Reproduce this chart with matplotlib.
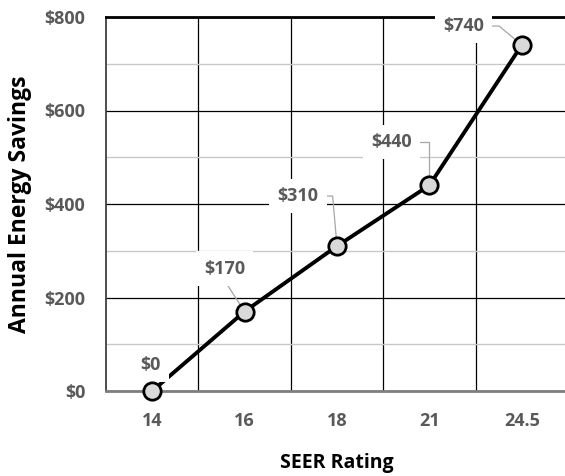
import matplotlib.pyplot as plt
from matplotlib.ticker import FixedLocator, FuncFormatter

plt.rcParams["font.family"] = ["Open Sans", "DejaVu Sans"]

seer = ["14", "16", "18", "21", "24.5"]
savings = [0, 170, 310, 440, 740]

# label placement (pixels from the point) and leader-line angle at the point
label_offsets = [(-2, 26), (-20, 43), (-39, 50), (-38, 43), (-58, 19)]
leader_angles = [None, "straight", 95, 90, 140]

LABEL_GRAY = "#595959"

fig = plt.figure(figsize=(5.65, 4.76), dpi=100)
ax = fig.add_axes([106 / 565, 85 / 476, 462 / 565, 374 / 476])

x = list(range(len(seer)))
# line under the label boxes, markers above them
ax.plot(x, savings, color="black", lw=2.8, zorder=4, solid_capstyle="round",
        clip_on=False)
ax.plot(x, savings, ls="none", zorder=8, clip_on=False,
        marker="o", markersize=12.5, markerfacecolor="#d9d9d9",
        markeredgecolor="black", markeredgewidth=2.0)

for i, (xi, yi) in enumerate(zip(x, savings)):
    dx, dy = label_offsets[i]
    ang = leader_angles[i]
    if ang is None:
        arrow = None
    elif ang == "straight":
        arrow = dict(arrowstyle="-", color="#a6a6a6", lw=0.9,
                     shrinkA=0, shrinkB=4, relpos=(0.45, 0.0))
    else:
        arrow = dict(arrowstyle="-", color="#a6a6a6", lw=0.9,
                     shrinkA=0, shrinkB=4, relpos=(1.0, 0.5),
                     connectionstyle=f"angle,angleA=0,angleB={ang},rad=0")
    ax.annotate(f"${yi}", (xi, yi), xytext=(dx, dy), textcoords="offset pixels",
                ha="center", va="center", fontsize=13, fontweight="bold",
                color=LABEL_GRAY, zorder=6, annotation_clip=False,
                bbox=dict(boxstyle="square,pad=0.45", fc="white", ec="none"),
                arrowprops=arrow)

ax.set_xlim(-0.5, len(seer) - 0.5)
ax.set_ylim(0, 800)
ax.set_xticks(x)
ax.set_xticklabels(seer)
ax.xaxis.set_minor_locator(FixedLocator([i + 0.5 for i in x[:-1]]))
ax.yaxis.set_major_locator(FixedLocator([0, 200, 400, 600, 800]))
ax.yaxis.set_minor_locator(FixedLocator([100, 300, 500, 700]))
ax.yaxis.set_major_formatter(FuncFormatter(lambda v, p: f"${v:.0f}"))

ax.grid(True, which="major", axis="y", color="black", lw=0.9, zorder=1)
ax.grid(True, which="minor", axis="y", color="#c8c8c8", lw=1.0, zorder=1)
ax.grid(True, which="minor", axis="x", color="black", lw=0.9, zorder=1)
ax.set_axisbelow(True)

ax.tick_params(which="both", length=0)
ax.tick_params(axis="y", pad=15, labelsize=13, labelcolor=LABEL_GRAY)
ax.tick_params(axis="x", pad=15, labelsize=13, labelcolor=LABEL_GRAY)
for lbl in ax.get_xticklabels() + ax.get_yticklabels():
    lbl.set_fontweight("bold")

ax.spines["top"].set_color("black")
ax.spines["top"].set_linewidth(2.0)
ax.spines["right"].set_visible(False)
ax.spines["left"].set_color("#404040")
ax.spines["left"].set_linewidth(1.3)
ax.spines["bottom"].set_color("#7f7f7f")
ax.spines["bottom"].set_linewidth(2.0)

ax.set_xlabel("SEER Rating", fontsize=14, fontweight="bold")
ax.set_ylabel("Annual Energy Savings", fontsize=16.5, fontweight="bold")
ax.xaxis.set_label_coords(0.5, -0.165)
ax.yaxis.set_label_coords(-0.16, 0.5)

fig.savefig("out.png", dpi=100)
